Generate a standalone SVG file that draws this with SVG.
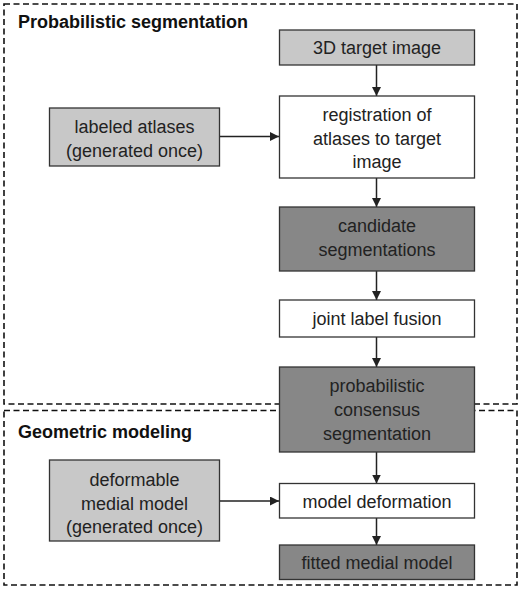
<svg xmlns="http://www.w3.org/2000/svg" width="522" height="600" viewBox="0 0 522 600">
<style>
.t{font-family:"Liberation Sans",Arial,sans-serif;font-size:18px;fill:#222;text-anchor:middle}
.h{font-family:"Liberation Sans",Arial,sans-serif;font-size:18px;font-weight:bold;fill:#111}
.box{stroke:#333;stroke-width:1.3}
.lg{fill:#c8c8c8}
.dg{fill:#878787}
.wh{fill:#fff}
.grp{fill:none;stroke:#111;stroke-width:1.6;stroke-dasharray:6 3.5}
.c{stroke:#222;stroke-width:1.5;fill:none;marker-end:url(#ah)}
</style>
<defs>
<marker id="ah" viewBox="0 0 10 10" refX="10" refY="5" markerWidth="9" markerHeight="9" markerUnits="userSpaceOnUse" orient="auto">
<path d="M0,0 L10,5 L0,10 z" fill="#222"/>
</marker>
</defs>
<rect width="522" height="600" fill="#fff"/>
<g id="group-prob">
<rect class="grp" x="4" y="4" width="513" height="400"/>
<text class="h" x="18" y="28">Probabilistic segmentation</text>
</g>
<g id="group-geom">
<rect class="grp" x="4" y="410.5" width="513" height="174.5"/>
<text class="h" x="18" y="438">Geometric modeling</text>
</g>
<g id="connectors">
<line class="c" x1="376.5" y1="65" x2="376.5" y2="96"/>
<line class="c" x1="219.5" y1="136.5" x2="279" y2="136.5"/>
<line class="c" x1="376.5" y1="178" x2="376.5" y2="207"/>
<line class="c" x1="376.5" y1="271" x2="376.5" y2="300"/>
<line class="c" x1="376.5" y1="337" x2="376.5" y2="367"/>
<line class="c" x1="376.5" y1="452" x2="376.5" y2="483.5"/>
<line class="c" x1="219.5" y1="501" x2="279" y2="501"/>
<line class="c" x1="376.5" y1="518" x2="376.5" y2="545"/>
</g>
<g id="target">
<rect class="box lg" x="279.5" y="30" width="195" height="35"/>
<text class="t" x="377" y="54">3D target image</text>
</g>
<g id="registration">
<rect class="box wh" x="279.5" y="96" width="195" height="82"/>
<text class="t" x="377" y="121">registration of</text>
<text class="t" x="377" y="144.5">atlases to target</text>
<text class="t" x="377" y="168">image</text>
</g>
<g id="atlases">
<rect class="box lg" x="49.5" y="108" width="170" height="58"/>
<text class="t" x="134.5" y="133">labeled atlases</text>
<text class="t" x="134.5" y="157">(generated once)</text>
</g>
<g id="candidates">
<rect class="box dg" x="279.5" y="207" width="195" height="64"/>
<text class="t" x="377" y="232">candidate</text>
<text class="t" x="377" y="255.5">segmentations</text>
</g>
<g id="jlf">
<rect class="box wh" x="279.5" y="300" width="195" height="37"/>
<text class="t" x="377" y="325">joint label fusion</text>
</g>
<g id="consensus">
<rect class="box dg" x="279.5" y="367" width="195" height="85"/>
<text class="t" x="377" y="392">probabilistic</text>
<text class="t" x="377" y="416">consensus</text>
<text class="t" x="377" y="439.5">segmentation</text>
</g>
<g id="medial">
<rect class="box lg" x="49.5" y="460" width="170" height="81"/>
<text class="t" x="134.5" y="486">deformable</text>
<text class="t" x="134.5" y="509.5">medial model</text>
<text class="t" x="134.5" y="533">(generated once)</text>
</g>
<g id="deformation">
<rect class="box wh" x="279.5" y="483.5" width="195" height="34.5"/>
<text class="t" x="377" y="507.5">model deformation</text>
</g>
<g id="fitted">
<rect class="box dg" x="279.5" y="545" width="195" height="34.5"/>
<text class="t" x="377" y="569">fitted medial model</text>
</g>
</svg>
